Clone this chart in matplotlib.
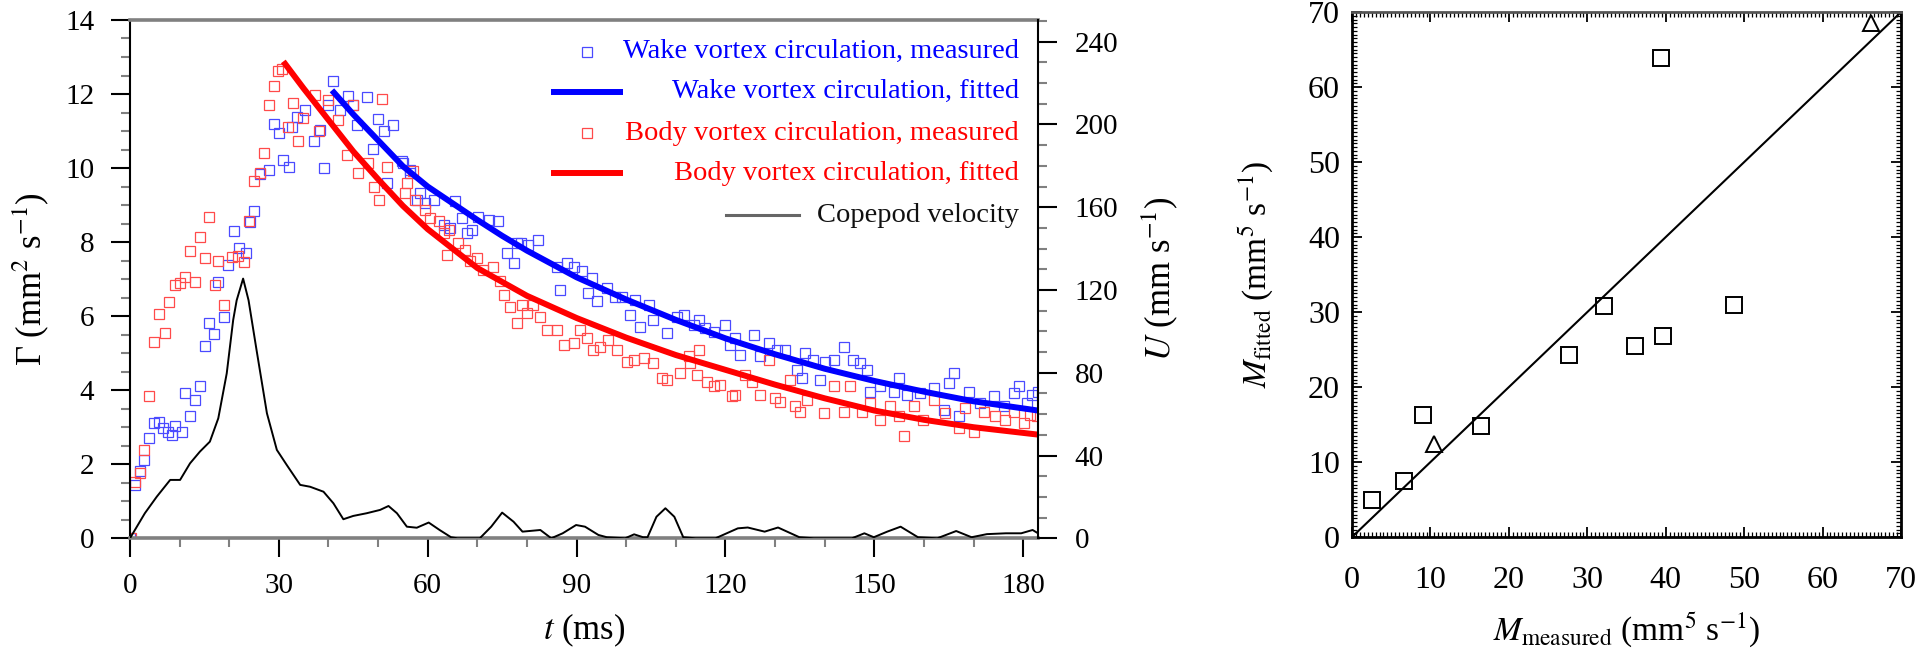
import matplotlib
matplotlib.use('Agg')
import matplotlib.pyplot as plt
from matplotlib.ticker import MultipleLocator

plt.rcParams['font.family'] = ['Liberation Serif', 'DejaVu Serif']
plt.rcParams['mathtext.fontset'] = 'stix'

# ---------------- data: left panel ----------------
wake_t = [0.0, 1.0, 2.0, 2.8, 3.9, 4.9, 5.9, 6.7, 7.7, 8.4, 9.1, 10.4, 11.1, 12.1, 13.1, 14.1,
          15.1, 16.0, 17.0, 17.7, 19.0, 19.8, 20.9, 22.0, 23.4, 24.1, 24.9, 26.2, 28.1, 29.0,
          30.0, 30.9, 32.1, 32.6, 33.6, 35.3, 37.0, 38.3, 39.1, 40.0, 41.0, 42.3, 44.0, 45.0,
          45.7, 47.8, 48.9, 49.9, 51.1, 51.7, 53.1, 54.8, 55.1, 56.4, 56.5, 57.8, 58.5, 59.5,
          61.2, 63.2, 64.5, 65.5, 66.9, 67.9, 68.9, 70.2, 72.3, 74.2, 75.9, 77.3, 77.9, 78.9,
          80.3, 82.3, 86.0, 86.7, 88.0, 89.4, 91.0, 92.4, 93.1, 94.1, 96.1, 97.8, 99.2, 100.8,
          101.8, 102.8, 104.5, 105.5, 108.2, 110.2, 111.6, 113.6, 114.6, 115.9, 117.6, 119.9,
          121.0, 121.9, 123.0, 125.7, 127.0, 128.7, 130.4, 132.0, 134.4, 135.4, 136.1, 137.7,
          139.1, 140.1, 141.8, 143.8, 145.8, 147.2, 148.5, 149.2, 151.2, 153.9, 154.9, 156.6,
          159.3, 162.0, 164.0, 165.0, 166.0, 167.0, 169.0, 171.4, 174.1, 176.1, 178.1, 179.1,
          180.8, 181.7, 183.0]
wake_gamma = [0.00, 1.44, 1.83, 2.12, 2.70, 3.11, 3.15, 2.97, 2.88, 2.79, 3.04, 2.88, 3.92, 3.31,
              3.74, 4.12, 5.20, 5.81, 5.51, 6.91, 5.97, 7.39, 8.29, 7.84, 7.70, 8.53, 8.85, 9.85,
              9.94, 11.20, 10.95, 10.23, 10.04, 11.12, 11.38, 11.57, 10.72, 11.03, 10.00, 11.71,
              12.34, 11.57, 11.94, 11.71, 11.17, 11.92, 10.51, 11.32, 10.99, 9.59, 11.17, 10.18,
              10.14, 9.95, 9.86, 9.14, 9.32, 9.05, 9.14, 8.47, 8.38, 9.10, 8.65, 8.24, 8.33, 8.69,
              8.60, 8.56, 7.70, 7.43, 7.97, 7.97, 7.93, 8.06, 7.34, 6.71, 7.43, 7.34, 7.21, 6.62,
              7.03, 6.40, 6.76, 6.53, 6.53, 6.04, 6.44, 5.72, 6.31, 5.90, 5.54, 5.99, 6.04, 5.77,
              5.90, 5.68, 5.58, 5.76, 5.22, 5.41, 4.95, 5.49, 4.91, 5.27, 5.09, 5.09, 4.55, 4.32,
              5.00, 4.82, 4.28, 4.77, 4.82, 5.16, 4.82, 4.73, 4.55, 3.96, 4.10, 3.96, 4.32, 3.87,
              3.92, 4.05, 3.47, 4.19, 4.46, 3.29, 3.96, 3.65, 3.83, 3.56, 3.92, 4.10, 3.65, 3.87,
              3.96]

body_t = [0.3, 1.0, 2.0, 2.9, 3.9, 4.9, 5.9, 7.1, 7.9, 9.1, 10.1, 11.1, 12.1, 13.1, 14.1, 15.1,
          16.0, 17.1, 17.8, 18.9, 20.5, 21.8, 23.0, 23.9, 24.9, 26.2, 27.0, 28.1, 29.0, 29.9,
          30.6, 31.9, 32.9, 33.9, 34.8, 37.3, 38.1, 40.0, 41.9, 43.7, 45.0, 46.0, 48.0, 49.1,
          50.1, 50.7, 51.7, 55.4, 55.8, 57.1, 57.5, 59.5, 60.5, 62.2, 63.2, 63.9, 64.2, 66.2,
          67.6, 68.5, 69.9, 71.2, 73.2, 74.6, 75.3, 76.6, 78.0, 79.0, 80.0, 81.3, 82.7, 84.0,
          86.0, 87.4, 89.4, 90.7, 92.1, 93.4, 94.8, 96.4, 98.1, 100.1, 101.5, 103.5, 105.5,
          107.2, 108.2, 110.9, 112.6, 112.9, 114.2, 114.7, 116.3, 117.6, 119.0, 121.3, 122.0,
          124.0, 125.4, 127.0, 128.7, 130.0, 131.0, 133.0, 134.0, 135.1, 136.4, 139.8, 141.8,
          143.8, 145.2, 147.5, 149.2, 151.2, 153.1, 154.9, 155.9, 157.9, 159.9, 162.0, 164.3,
          167.0, 168.3, 170.0, 172.1, 174.4, 176.4, 178.1, 180.1, 181.4, 182.7]
body_gamma = [0.00, 1.53, 1.77, 2.39, 3.85, 5.29, 6.06, 5.54, 6.39, 6.85, 6.89, 7.07, 7.77, 6.91,
              8.14, 7.57, 8.69, 6.83, 7.50, 6.31, 7.61, 7.63, 7.45, 8.56, 9.64, 9.86, 10.42,
              11.71, 12.22, 12.61, 12.68, 11.12, 11.75, 10.72, 11.35, 11.98, 10.99, 11.85, 11.31,
              10.36, 11.71, 9.86, 10.14, 9.50, 9.14, 11.86, 10.04, 9.32, 9.60, 9.91, 9.14, 8.87,
              8.65, 8.56, 8.24, 7.66, 8.33, 7.97, 7.79, 7.48, 7.57, 7.25, 7.34, 6.94, 6.58, 6.26,
              5.81, 6.31, 6.08, 6.31, 5.99, 5.63, 5.63, 5.22, 5.27, 5.63, 5.41, 5.09, 5.18, 5.36,
              5.09, 4.77, 4.82, 4.86, 4.73, 4.32, 4.28, 4.46, 4.91, 4.73, 4.41, 5.09, 4.23, 4.10,
              4.14, 3.83, 3.87, 4.41, 4.23, 3.87, 4.82, 3.78, 3.69, 4.28, 3.56, 3.42, 3.74, 3.38,
              4.10, 3.42, 4.10, 3.42, 3.65, 3.20, 3.56, 3.29, 2.75, 3.56, 3.20, 3.74, 3.38, 2.97,
              3.51, 2.88, 3.42, 3.29, 3.20, 3.42, 3.11, 3.33, 3.29]

wake_fit_t = [40.7, 45, 50, 55, 60, 65, 70, 75, 80, 90, 100, 110, 120, 130, 140, 150, 160, 170, 183]
wake_fit_gamma = [12.10, 11.45, 10.75, 10.05, 9.50, 9.05, 8.60, 8.17, 7.77, 7.05, 6.45, 5.90,
                  5.40, 4.97, 4.58, 4.25, 3.96, 3.70, 3.45]

body_fit_t = [30.9, 35, 40, 45, 50, 55, 60, 70, 80, 90, 100, 110, 120, 130, 140, 150, 160, 170, 183]
body_fit_gamma = [12.88, 12.15, 11.30, 10.45, 9.70, 8.98, 8.35, 7.30, 6.55, 5.95, 5.42, 4.95,
                  4.55, 4.15, 3.78, 3.45, 3.20, 3.00, 2.80]

copepod_t = [0.0, 3.0, 5.4, 8.1, 10.1, 12.1, 14.1, 16.1, 17.8, 19.5, 20.8, 21.5, 22.8, 23.9, 25.5,
             27.6, 29.6, 31.6, 34.3, 36.3, 39.0, 41.0, 43.0, 45.0, 47.7, 50.4, 52.1, 53.8, 55.8,
             57.8, 60.2, 62.4, 64.7, 66.0, 70.5, 72.8, 75.0, 77.3, 79.1, 82.7, 84.9, 87.2, 89.9,
             91.7, 94.4, 96.1, 99.8, 101.6, 103.4, 104.3, 106.1, 107.9, 109.7, 111.5, 114.0,
             118.0, 122.5, 124.5, 127.9, 130.6, 134.9, 137.8, 145.5, 148.0, 149.9, 152.6, 155.3,
             158.8, 162.7, 166.5, 169.6, 172.7, 176.5, 179.6, 181.9, 183.0]
copepod_u = [0.0, 12.1, 20.1, 28.2, 28.2, 36.2, 41.9, 46.7, 58.0, 79.7, 105.5, 115.0, 125.5, 115.0,
             91.1, 60.4, 42.7, 35.4, 25.8, 24.9, 22.5, 16.9, 9.2, 10.8, 12.1, 13.7, 15.6, 12.1,
             5.6, 5.1, 7.6, 4.0, 0.5, 0.0, 0.0, 5.6, 12.4, 8.0, 3.2, 4.0, 0.0, 2.4, 6.4, 5.6,
             1.6, 0.5, 0.0, 1.9, 0.5, 0.5, 10.4, 14.5, 10.4, 0.5, 0.0, 0.0, 4.8, 5.2, 3.2, 5.2,
             0.5, 0.0, 0.0, 2.4, 0.5, 3.2, 5.6, 0.5, 0.0, 3.5, 0.5, 2.0, 2.4, 2.4, 4.0, 2.4]

legend_labels = ['Wake vortex circulation, measured', 'Wake vortex circulation, fitted',
                 'Body vortex circulation, measured', 'Body vortex circulation, fitted',
                 'Copepod velocity']

t_ticks = [0, 30, 60, 90, 120, 150, 180]
gamma_ticks = [0, 2, 4, 6, 8, 10, 12, 14]
u_ticks = [0, 40, 80, 120, 160, 200, 240]

# ---------------- data: right panel ----------------
sq_measured = [2.5, 6.6, 9.0, 16.4, 27.6, 32.1, 36.1, 39.6, 39.4, 48.7]
sq_fitted = [5.0, 7.5, 16.3, 14.8, 24.3, 30.8, 25.5, 26.8, 63.9, 30.9]
tri_measured = [10.4, 66.1]
tri_fitted = [12.4, 68.6]
ref_line_x = [0, 70]
ref_line_y = [0, 70]
m_ticks = [0, 10, 20, 30, 40, 50, 60, 70]

# ---------------- styling ----------------
BLUE_PT = '#4a4aff'
RED_PT = '#ff4a4a'
BLUE_LN = '#0000ff'
RED_LN = '#ff0000'
GREY = '#808080'

fig = plt.figure(figsize=(19.17, 6.53), dpi=100)

ax = fig.add_axes([0.0678, 0.1757, 0.4737, 0.7937])
ax2 = ax.twinx()

ax.plot(wake_t, wake_gamma, ls='none', marker='s', mfc='none', mec=BLUE_PT, ms=6.7, mew=0.9, zorder=2)
ax.plot(body_t, body_gamma, ls='none', marker='s', mfc='none', mec=RED_PT, ms=6.7, mew=0.9, zorder=2)
ax.plot(wake_fit_t, wake_fit_gamma, color=BLUE_LN, lw=4.3, solid_capstyle='butt', zorder=3)
ax.plot(body_fit_t, body_fit_gamma, color=RED_LN, lw=4.3, solid_capstyle='butt', zorder=3)
ax2.plot(copepod_t, copepod_u, color='black', lw=1.4)

ax.set_xlim(0, 183)
ax.set_ylim(0, 14)
ax2.set_ylim(0, 250.5)
ax.set_xticks(t_ticks)
ax.set_yticks(gamma_ticks)
ax2.set_yticks(u_ticks)
ax.xaxis.set_minor_locator(MultipleLocator(10))
ax.yaxis.set_minor_locator(MultipleLocator(0.5))
ax2.yaxis.set_minor_locator(MultipleLocator(10))

ax.tick_params(which='major', direction='out', length=13.7, width=1.5, labelsize=21, color='black')
ax.tick_params(which='minor', direction='out', length=6.5, width=1.5, color=GREY)
ax.tick_params(axis='x', which='major', pad=11)
ax.tick_params(axis='y', which='major', pad=12)
ax.tick_params(axis='x', top=False, which='both')
ax.tick_params(axis='y', right=False, which='both')
ax2.tick_params(which='major', direction='out', length=13.7, width=1.5, labelsize=21, pad=12.5)
ax2.tick_params(which='minor', direction='out', length=6.5, width=1.5, color=GREY)

for s in ['top', 'bottom']:
    ax.spines[s].set_color(GREY)
    ax.spines[s].set_linewidth(2.6)
ax.spines['left'].set_linewidth(1.5)
ax.spines['right'].set_visible(False)
for s in ['top', 'bottom', 'left']:
    ax2.spines[s].set_visible(False)
ax2.spines['right'].set_linewidth(1.5)

ax.set_ylabel('Γ (mm$^2$ s$^{-1}$)', fontsize=25, va='center')
ax.yaxis.set_label_coords(-0.110, 0.5)
ax.set_xlabel('$t$ (ms)', fontsize=25, va='center')
ax.xaxis.set_label_coords(0.5, -0.177)
ax2.set_ylabel('$U$ (mm s$^{-1}$)', fontsize=25, va='center', rotation=90)
ax2.yaxis.set_label_coords(1.134, 0.5)

# legend (Tecplot style: right-aligned coloured text)
rows = [0.9388, 0.8616, 0.7814, 0.7042, 0.6233]
colors = [BLUE_LN, BLUE_LN, RED_LN, RED_LN, 'black']
for lab, yy, c in zip(legend_labels, rows, colors):
    ax.text(0.979, yy, lab, transform=ax.transAxes, ha='right', va='center',
            fontsize=20.5, color=c if c != 'black' else '#111111')
ax.plot([0.5033], [rows[0]], transform=ax.transAxes, marker='s', mfc='none', mec=BLUE_PT,
        ms=6.7, mew=0.9, clip_on=False)
ax.plot([0.4637, 0.5430], [rows[1]] * 2, transform=ax.transAxes, color=BLUE_LN, lw=4.3,
        solid_capstyle='butt')
ax.plot([0.5033], [rows[2]], transform=ax.transAxes, marker='s', mfc='none', mec=RED_PT,
        ms=6.7, mew=0.9, clip_on=False)
ax.plot([0.4637, 0.5430], [rows[3]] * 2, transform=ax.transAxes, color=RED_LN, lw=4.3,
        solid_capstyle='butt')
ax.plot([0.6564, 0.7368], [rows[4]] * 2, transform=ax.transAxes, color='#666666', lw=2.2)

# ---------------- right panel ----------------
axr = fig.add_axes([0.7053, 0.1776, 0.2864, 0.8040])
axr.plot(ref_line_x, ref_line_y, color='black', lw=1.5)
axr.plot(sq_measured, sq_fitted, ls='none', marker='s', mfc='none', mec='black', ms=12, mew=1.4)
axr.plot(tri_measured, tri_fitted, ls='none', marker='^', mfc='none', mec='black', ms=12, mew=1.4,
         clip_on=False)
axr.set_xlim(0, 70)
axr.set_ylim(0, 70)
axr.set_xticks(m_ticks)
axr.set_yticks(m_ticks)
axr.xaxis.set_minor_locator(MultipleLocator(0.5))
axr.yaxis.set_minor_locator(MultipleLocator(0.5))
axr.tick_params(which='both', direction='in', top=True, right=True)
axr.tick_params(which='major', length=7, width=1.3, labelsize=23)
axr.tick_params(which='minor', length=3.5, width=0.9)
axr.tick_params(axis='x', which='major', pad=21)
axr.tick_params(axis='y', which='major', pad=8.6)
for s in axr.spines.values():
    s.set_linewidth(2.0)
axr.spines['top'].set_color('#555555')
axr.set_ylabel('$M_{\\mathrm{fitted}}$ (mm$^5$ s$^{-1}$)', fontsize=24, va='center')
axr.yaxis.set_label_coords(-0.175, 0.5)
axr.set_xlabel('$M_{\\mathrm{measured}}$ (mm$^5$ s$^{-1}$)', fontsize=24, va='center')
axr.xaxis.set_label_coords(0.5, -0.177)

fig.savefig('out.png', dpi=100)
